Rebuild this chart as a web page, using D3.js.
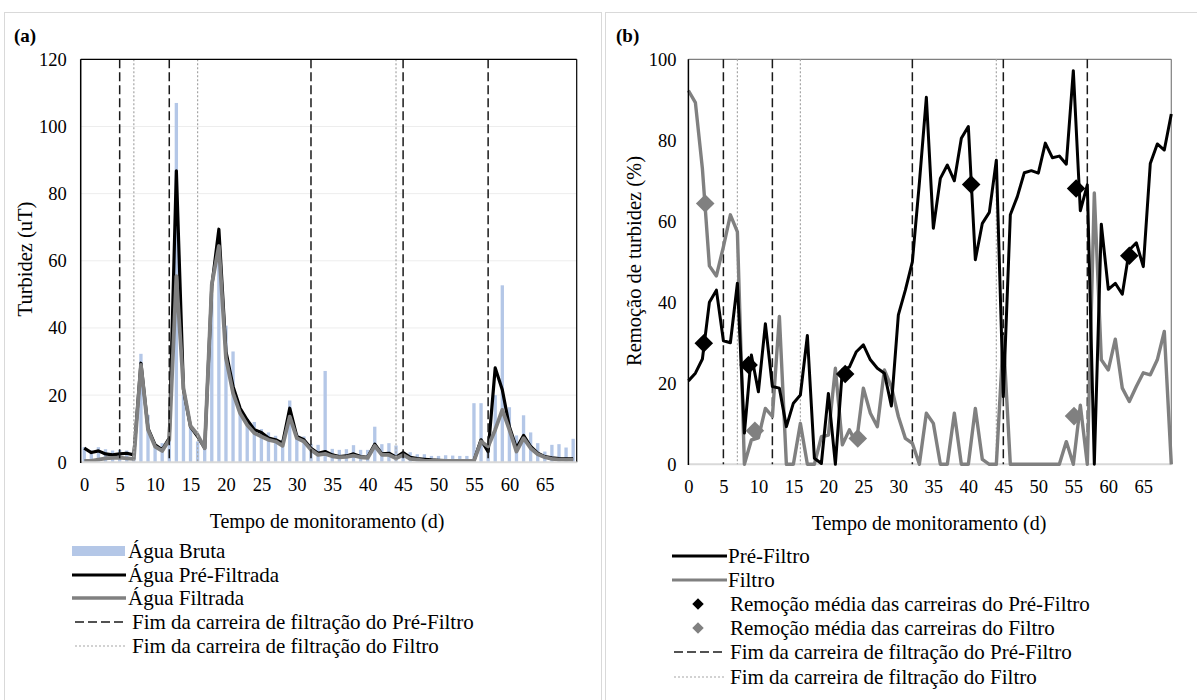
<!DOCTYPE html>
<html>
<head>
<meta charset="utf-8">
<script src="https://cdn.jsdelivr.net/npm/d3@7"></script>
<style>
  body { margin: 0; background: #fff; }
  svg text { font-family: "Liberation Serif", "Times New Roman", serif; fill: #000; }
</style>
</head>
<body>
<script>
const W = 1197, H = 700;

// days of monitoring (categories)
const days = d3.range(0, 70);
const xTicks = [0, 5, 10, 15, 20, 25, 30, 35, 40, 45, 50, 55, 60, 65];
const yTicksA = [0, 20, 40, 60, 80, 100, 120];
const yTicksB = [0, 20, 40, 60, 80, 100];

// (a) turbidity, uT
const aguaBruta = [4.5, 3.5, 4.5, 3.9, 3.5, 3.7, 3.5, 1.5, 32.3, 14.1,
  5.0, 5.7, 7.0, 107, 20, 10.6, 6.2, 5.0, 50, 64,
  40.7, 33, 15.8, 13, 12, 9.9, 8.9, 7.9, 6.7, 18.4,
  8.5, 7.7, 5.5, 5.2, 27.2, 4.0, 3.7, 3.9, 5.1, 3.7,
  3.7, 10.6, 5.4, 5.7, 5.0, 2.7, 3.0, 2.4, 2.4, 1.9,
  1.9, 2.1, 2.0, 1.9, 1.9, 17.6, 17.6, 4.0, 20, 52.7,
  16.4, 8.0, 14, 8.9, 5.7, 3.2, 5.2, 5.4, 4.4, 7.0];
const aguaPreFiltrada = [4.2, 2.9, 3.4, 2.5, 2.2, 2.5, 2.7, 2.2, 29.5, 10.1,
  5.2, 3.7, 7.2, 86.8, 21.6, 10.6, 7.7, 4.2, 52.4, 69.4,
  33, 22.6, 16.1, 12.6, 9.7, 8.9, 7.2, 6.7, 5.7, 16.1,
  7.7, 6.7, 4.2, 2.7, 3.2, 2.2, 1.7, 1.9, 2.5, 1.7,
  1.5, 5.4, 2.5, 2.7, 1.5, 2.9, 1.5, 1.1, 0.9, 0.7,
  0.6, 0.5, 0.5, 0.5, 0.5, 0.5, 6.7, 3.2, 28.1, 21.6,
  10.6, 4.2, 8.0, 4.7, 2.7, 1.7, 1.3, 1.1, 1.0, 1.0];
const aguaFiltrada = [0.4, 0.4, 0.8, 1.2, 1.3, 1.4, 1.2, 1.0, 29, 9.7,
  4.7, 3.4, 6.7, 55.4, 22.1, 10.8, 8.2, 4.2, 52.9, 64.4,
  31, 20.6, 14.6, 11.1, 8.7, 7.7, 6.7, 6.2, 4.9, 13.6,
  7.2, 6.2, 3.7, 2.2, 2.5, 1.8, 1.5, 1.6, 2.0, 1.5,
  1.3, 4.9, 2.2, 2.2, 1.2, 2.2, 1.0, 0.8, 0.5, 0.4,
  0.4, 0.4, 0.4, 0.4, 0.4, 0.4, 6.2, 4.7, 9.7, 15.6,
  9.7, 3.2, 7.2, 4.2, 2.4, 1.5, 1.0, 0.8, 0.7, 0.7];

// (b) turbidity removal, %
const remPreFiltro = [20.6, 22.5, 26, 40, 43, 30.5, 30, 44.7, 7.7, 27,
  17.9, 34.7, 19.2, 18.8, 9.3, 15.1, 17.1, 31.8, 1.5, 0.2,
  17.5, 0, 23.3, 24, 27.8, 29.5, 25.8, 23.7, 22.5, 14.4,
  36.9, 43, 50, 69.4, 90.6, 58.3, 70.6, 73.9, 70, 80.5,
  83.4, 50.5, 59.5, 62.2, 75.1, 16.7, 61.6, 66.1, 72, 72.5,
  71.9, 79.3, 75.7, 76.1, 74.1, 97.2, 62.6, 69, 0, 59.3,
  43.2, 44.7, 42, 52.9, 54.7, 48.8, 74.3, 79.1, 77.6, 86.5];
const remFiltro = [92.3, 89.3, 73, 49, 46.5, 53.7, 61.6, 57.4, 0, 6,
  6.5, 13.8, 11.8, 36.5, 0, 0, 10.1, 0, 0, 6.8,
  7.2, 23.7, 4.8, 8.5, 5.2, 18.8, 12.6, 9.3, 23.3, 19.2,
  11.8, 6.4, 5.2, 0, 12.6, 10.1, 0, 0, 12.6, 0,
  0, 13.8, 1.2, 0, 0, 31.5, 0, 0, 0, 0,
  0, 0, 0, 0, 5.6, 0, 14.6, 0, 67, 25.8,
  23.3, 30.9, 18.8, 15.5, 19.2, 22.6, 22.1, 25.8, 32.8, 0];

// mean removal per run [day, %]
const mediaPreFiltro = [[2.2, 29.9], [8.6, 24.5], [22.4, 22.3], [40.4, 69.1], [55.4, 68.1], [63.0, 51.5]];
const mediaFiltro = [[2.4, 64.4], [9.5, 8.3], [24.2, 6.4], [55.1, 11.9]];

// end of filtration runs (day)
const fimPreFiltro = [5, 12, 32, 45, 57];
const fimFiltro = [7, 16, 44];

const legendA = ['Água Bruta', 'Água Pré-Filtrada', 'Água Filtrada',
  'Fim da carreira de filtração do Pré-Filtro', 'Fim da carreira de filtração do Filtro'];
const legendB = ['Pré-Filtro', 'Filtro', 'Remoção média das carreiras do Pré-Filtro',
  'Remoção média das carreiras do Filtro', 'Fim da carreira de filtração do Pré-Filtro',
  'Fim da carreira de filtração do Filtro'];

const cBar = '#b4c7e7', cGray = '#808080', cDash = '#1a1a1a', cDot = '#a6a6a6';

const svg = d3.select('body').append('svg')
  .attr('width', W)
  .attr('height', H);

svg.append('rect').attr('width', W).attr('height', H).attr('fill', '#fff');

// panel frames
svg.append('rect').attr('x', 4.5).attr('y', 12.5).attr('width', 597).attr('height', 700)
  .attr('fill', 'none').attr('stroke', '#d9d9d9');
svg.append('rect').attr('x', 605.5).attr('y', 12.5).attr('width', 600).attr('height', 700)
  .attr('fill', 'none').attr('stroke', '#d9d9d9');

// ---------- panel (a) ----------
const ga = svg.append('g');
const xa = d3.scaleBand().domain(days).range([80.7, 576.7]).paddingInner(0.53).paddingOuter(0.265);
const xaC = d => xa(d) + xa.bandwidth() / 2;
const ya = d3.scaleLinear().domain([0, 120]).range([462.3, 59.3]);

ga.append('g')
  .selectAll('line')
  .data(yTicksA.slice(1))
  .enter()
  .append('line')
  .attr('x1', 80.7).attr('x2', 576.7)
  .attr('y1', d => ya(d)).attr('y2', d => ya(d))
  .attr('stroke', '#ededed').attr('stroke-width', 1);

ga.append('g')
  .selectAll('rect')
  .data(aguaBruta)
  .enter()
  .append('rect')
  .attr('x', (d, i) => xa(days[i]))
  .attr('width', xa.bandwidth())
  .attr('y', d => ya(d))
  .attr('height', d => ya(0) - ya(d))
  .attr('fill', cBar);

const lineA = d3.line().x((d, i) => xaC(days[i])).y(d => ya(d));

ga.append('path').datum(aguaPreFiltrada)
  .attr('d', lineA).attr('fill', 'none').attr('stroke', '#000')
  .attr('stroke-width', 3.2).attr('stroke-linejoin', 'round');
ga.append('path').datum(aguaFiltrada)
  .attr('d', lineA).attr('fill', 'none').attr('stroke', cGray)
  .attr('stroke-width', 3.8).attr('stroke-linejoin', 'round');

ga.append('g')
  .selectAll('line')
  .data(fimPreFiltro)
  .enter()
  .append('line')
  .attr('x1', d => xaC(d)).attr('x2', d => xaC(d))
  .attr('y1', ya(120)).attr('y2', ya(0))
  .attr('stroke', cDash).attr('stroke-width', 1.5).attr('stroke-dasharray', '9,4');
ga.append('g')
  .selectAll('line')
  .data(fimFiltro)
  .enter()
  .append('line')
  .attr('x1', d => xaC(d)).attr('x2', d => xaC(d))
  .attr('y1', ya(120)).attr('y2', ya(0))
  .attr('stroke', cDot).attr('stroke-width', 1.2).attr('stroke-dasharray', '2,2');

// frame lines of plot area
ga.append('line').attr('x1', 80.7).attr('x2', 576.7).attr('y1', 59.3).attr('y2', 59.3).attr('stroke', '#000').attr('stroke-width', 1.2);
ga.append('line').attr('x1', 576.7).attr('x2', 576.7).attr('y1', 59.3).attr('y2', 462.3).attr('stroke', '#000').attr('stroke-width', 1.2);
ga.append('line').attr('x1', 80.7).attr('x2', 576.7).attr('y1', 462.3).attr('y2', 462.3).attr('stroke', '#d9d9d9').attr('stroke-width', 2);
ga.append('line').attr('x1', 80.7).attr('x2', 80.7).attr('y1', 59.3).attr('y2', 463).attr('stroke', '#000').attr('stroke-width', 1.5);

const axYA = ga.append('g')
  .attr('transform', 'translate(80.7,0)')
  .call(d3.axisLeft(ya).tickValues(yTicksA).tickSize(0).tickPadding(14));
axYA.select('.domain').remove();
axYA.selectAll('text').style('font-size', '18.5px').style('font-family', '"Liberation Serif", serif');

const axXA = ga.append('g')
  .attr('transform', 'translate(0,462.3)')
  .call(d3.axisBottom(d3.scaleLinear().domain([0, 69]).range([xaC(0), xaC(69)]))
    .tickValues(xTicks).tickSize(0).tickPadding(16));
axXA.select('.domain').remove();
axXA.selectAll('text').style('font-size', '18.5px').style('font-family', '"Liberation Serif", serif');

ga.append('text').attr('x', 14).attr('y', 42).text('(a)')
  .style('font-size', '19px').style('font-weight', 'bold');
ga.append('text').attr('transform', 'translate(32,259) rotate(-90)')
  .attr('text-anchor', 'middle').style('font-size', '20.5px').text('Turbidez (uT)');
ga.append('text').attr('x', 327).attr('y', 528)
  .attr('text-anchor', 'middle').style('font-size', '20px').text('Tempo de monitoramento (d)');

// legend (a)
const legA = ga.append('g');
const rowsA = [551, 575, 598, 622, 646];
legA.append('rect').attr('x', 72).attr('y', rowsA[0] - 5).attr('width', 53).attr('height', 10).attr('fill', cBar);
legA.append('line').attr('x1', 72).attr('x2', 126).attr('y1', rowsA[1]).attr('y2', rowsA[1]).attr('stroke', '#000').attr('stroke-width', 3);
legA.append('line').attr('x1', 72).attr('x2', 126).attr('y1', rowsA[2]).attr('y2', rowsA[2]).attr('stroke', cGray).attr('stroke-width', 3.5);
legA.append('line').attr('x1', 75).attr('x2', 126).attr('y1', rowsA[3]).attr('y2', rowsA[3]).attr('stroke', cDash).attr('stroke-width', 1.5).attr('stroke-dasharray', '9,4');
legA.append('line').attr('x1', 75).attr('x2', 126).attr('y1', rowsA[4]).attr('y2', rowsA[4]).attr('stroke', cDot).attr('stroke-width', 1.2).attr('stroke-dasharray', '2,2');
legA.selectAll('text')
  .data(legendA)
  .enter()
  .append('text')
  .attr('x', (d, i) => i < 3 ? 128 : 132)
  .attr('y', (d, i) => rowsA[i])
  .attr('dy', '0.35em')
  .style('font-size', '21px')
  .text(d => d);

// ---------- panel (b) ----------
const gb = svg.append('g');
const xb = d3.scaleLinear().domain([0, 69]).range([688.4, 1171.3]);
const yb = d3.scaleLinear().domain([0, 100]).range([464.3, 59.3]);

gb.append('line').attr('x1', 688.4).attr('x2', 1171.3).attr('y1', 464.3).attr('y2', 464.3).attr('stroke', '#d9d9d9').attr('stroke-width', 2);
gb.append('line').attr('x1', 688.4).attr('x2', 1171.3).attr('y1', 59.3).attr('y2', 59.3).attr('stroke', '#7f7f7f').attr('stroke-width', 1.2);
gb.append('line').attr('x1', 1171.3).attr('x2', 1171.3).attr('y1', 59.3).attr('y2', 464.3).attr('stroke', '#7f7f7f').attr('stroke-width', 1.2);

gb.append('g')
  .selectAll('line')
  .data(fimPreFiltro)
  .enter()
  .append('line')
  .attr('x1', d => xb(d)).attr('x2', d => xb(d))
  .attr('y1', yb(100)).attr('y2', yb(0))
  .attr('stroke', cDash).attr('stroke-width', 1.5).attr('stroke-dasharray', '9,4');
gb.append('g')
  .selectAll('line')
  .data(fimFiltro)
  .enter()
  .append('line')
  .attr('x1', d => xb(d)).attr('x2', d => xb(d))
  .attr('y1', yb(100)).attr('y2', yb(0))
  .attr('stroke', cDot).attr('stroke-width', 1.2).attr('stroke-dasharray', '2,2');

const lineB = d3.line().x((d, i) => xb(days[i])).y(d => yb(d));

gb.append('path').datum(remFiltro)
  .attr('d', lineB).attr('fill', 'none').attr('stroke', cGray)
  .attr('stroke-width', 3.4).attr('stroke-linejoin', 'round');
gb.append('path').datum(remPreFiltro)
  .attr('d', lineB).attr('fill', 'none').attr('stroke', '#000')
  .attr('stroke-width', 3).attr('stroke-linejoin', 'round');

const diamond = d3.symbol().type(d3.symbolDiamond2);
gb.append('g')
  .selectAll('path')
  .data(mediaPreFiltro)
  .enter()
  .append('path')
  .attr('d', diamond.size(220)())
  .attr('transform', d => `translate(${xb(d[0])},${yb(d[1])})`)
  .attr('fill', '#000');
gb.append('g')
  .selectAll('path')
  .data(mediaFiltro)
  .enter()
  .append('path')
  .attr('d', diamond.size(220)())
  .attr('transform', d => `translate(${xb(d[0])},${yb(d[1])})`)
  .attr('fill', cGray);

gb.append('line').attr('x1', 688.4).attr('x2', 688.4).attr('y1', 59.3).attr('y2', 465).attr('stroke', '#000').attr('stroke-width', 1.5);

const axYB = gb.append('g')
  .attr('transform', 'translate(688.4,0)')
  .call(d3.axisLeft(yb).tickValues(yTicksB).tickSize(0).tickPadding(12));
axYB.select('.domain').remove();
axYB.selectAll('text').style('font-size', '18.5px').style('font-family', '"Liberation Serif", serif');

const axXB = gb.append('g')
  .attr('transform', 'translate(0,464.3)')
  .call(d3.axisBottom(xb).tickValues(xTicks).tickSize(0).tickPadding(16));
axXB.select('.domain').remove();
axXB.selectAll('text').style('font-size', '18.5px').style('font-family', '"Liberation Serif", serif');

gb.append('text').attr('x', 616).attr('y', 42).text('(b)')
  .style('font-size', '19px').style('font-weight', 'bold');
gb.append('text').attr('transform', 'translate(641,261) rotate(-90)')
  .attr('text-anchor', 'middle').style('font-size', '20.5px').text('Remoção de turbidez (%)');
gb.append('text').attr('x', 929).attr('y', 530)
  .attr('text-anchor', 'middle').style('font-size', '20px').text('Tempo de monitoramento (d)');

// legend (b)
const legB = gb.append('g');
const rowsB = [556, 580, 604, 628, 652, 677];
legB.append('line').attr('x1', 672).attr('x2', 727).attr('y1', rowsB[0]).attr('y2', rowsB[0]).attr('stroke', '#000').attr('stroke-width', 3);
legB.append('line').attr('x1', 672).attr('x2', 727).attr('y1', rowsB[1]).attr('y2', rowsB[1]).attr('stroke', cGray).attr('stroke-width', 3.2);
legB.append('path').attr('d', diamond.size(85)()).attr('transform', `translate(698,${rowsB[2]})`).attr('fill', '#000');
legB.append('path').attr('d', diamond.size(85)()).attr('transform', `translate(698,${rowsB[3]})`).attr('fill', cGray);
legB.append('line').attr('x1', 674).attr('x2', 726).attr('y1', rowsB[4]).attr('y2', rowsB[4]).attr('stroke', cDash).attr('stroke-width', 1.5).attr('stroke-dasharray', '9,4');
legB.append('line').attr('x1', 674).attr('x2', 726).attr('y1', rowsB[5]).attr('y2', rowsB[5]).attr('stroke', cDot).attr('stroke-width', 1.2).attr('stroke-dasharray', '2,2');
legB.selectAll('text')
  .data(legendB)
  .enter()
  .append('text')
  .attr('x', (d, i) => i < 2 ? 728 : 730)
  .attr('y', (d, i) => rowsB[i])
  .attr('dy', '0.35em')
  .style('font-size', '21px')
  .text(d => d);
</script>
</body>
</html>
